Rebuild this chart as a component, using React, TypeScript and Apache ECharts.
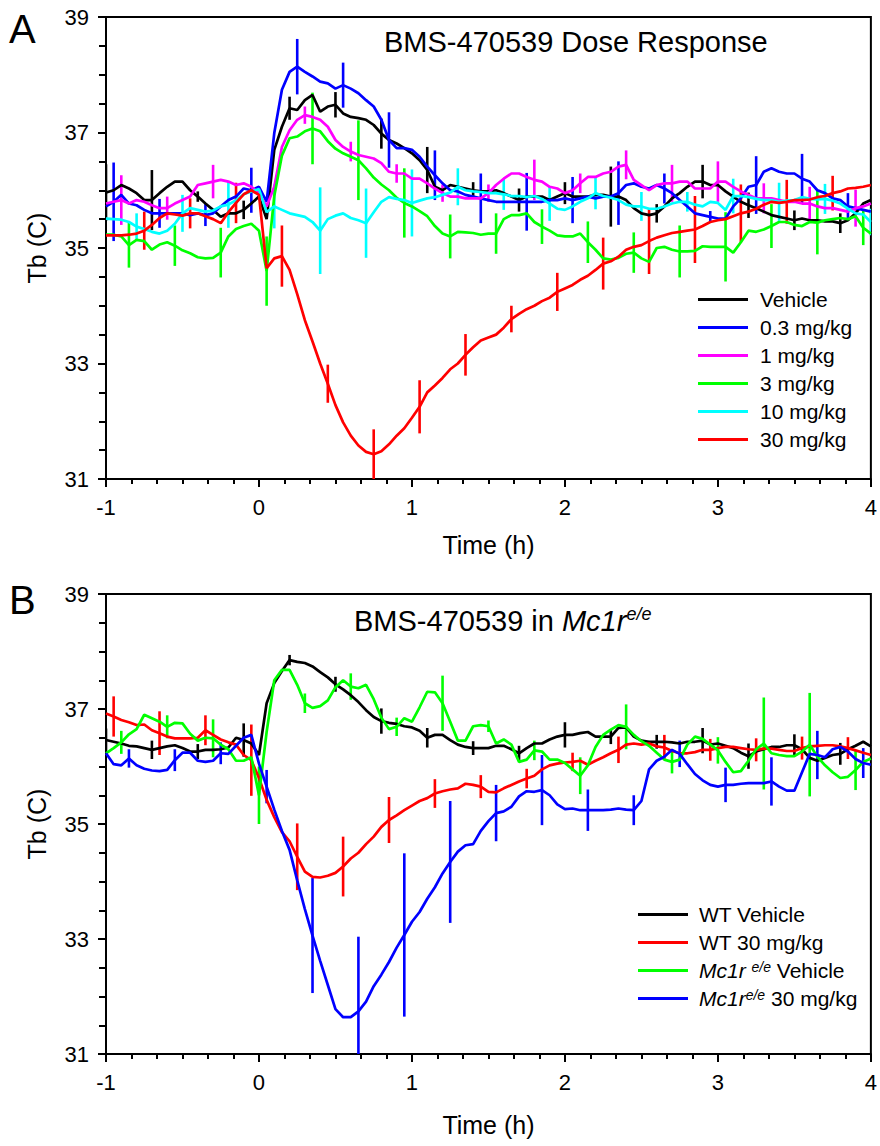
import React, { useEffect, useRef } from "react";
import * as echarts from "echarts";

// ---- time grid (h), 3-minute samples from -1 h to 4 h ----
const TIME: number[] = Array.from({ length: 101 }, (_, k) => Math.round((-1 + 0.05 * k) * 100) / 100);

// ---- Panel A: BMS-470539 dose response ----
const A_VEHICLE = [
  35.96, 36.0, 36.09, 36.03, 35.95, 35.83, 35.83, 35.95, 36.06, 36.15,
  36.15, 36.0, 35.89, 35.77, 35.66, 35.54, 35.6, 35.6, 35.66, 35.77,
  35.89, 35.5, 36.7, 37.1, 37.42, 37.39, 37.56, 37.65, 37.36, 37.45,
  37.48, 37.33, 37.27, 37.25, 37.22, 37.13, 36.98, 36.87, 36.81, 36.73,
  36.64, 36.52, 36.35, 36.06, 36.0, 36.09, 36.06, 36.03, 36.0, 35.98,
  35.98, 36.0, 35.95, 35.89, 35.83, 35.89, 35.89, 35.89, 35.83, 35.89,
  35.95, 35.89, 35.89, 35.89, 35.92, 35.92, 35.89, 35.89, 35.83, 35.69,
  35.6, 35.57, 35.6, 35.72, 35.86, 35.95, 36.06, 36.15, 36.15, 36.09,
  36.09, 35.98, 35.89, 35.8, 35.74, 35.69, 35.63, 35.57, 35.54, 35.51,
  35.48, 35.51, 35.48, 35.48, 35.46, 35.46, 35.43, 35.48, 35.6, 35.77, 35.83,
];
const A_DOSE_03 = [
  35.72, 35.8, 35.92, 35.77, 35.74, 35.66, 35.6, 35.6, 35.6, 35.6,
  35.6, 35.57, 35.6, 35.57, 35.6, 35.72, 35.83, 35.89, 36.03, 36.0,
  36.06, 35.8, 36.99, 37.74, 38.05, 38.14, 38.05, 37.97, 37.88, 37.85,
  37.76, 37.82, 37.76, 37.68, 37.56, 37.45, 37.22, 36.87, 36.73, 36.73,
  36.7, 36.58, 36.41, 36.26, 36.12, 36.0, 35.98, 35.92, 35.89, 35.86,
  35.83, 35.8, 35.8, 35.8, 35.8, 35.8, 35.8, 35.8, 35.83, 35.83,
  35.86, 35.83, 35.86, 35.89, 35.86, 35.89, 35.89, 35.95, 36.09, 36.12,
  36.06, 36.03, 36.09, 36.03, 35.95, 35.83, 35.72, 35.6, 35.57, 35.54,
  35.51, 35.51, 35.72, 35.86, 36.06, 36.09, 36.32, 36.38, 36.32, 36.29,
  36.29, 36.2, 36.15, 36.0, 35.95, 35.86, 35.83, 35.72, 35.69, 35.66, 35.63,
];
const A_DOSE_1 = [
  35.77, 35.8, 35.83, 35.77, 35.83, 35.8, 35.74, 35.69, 35.69, 35.77,
  35.83, 35.89, 36.09, 36.12, 36.15, 36.18, 36.15, 36.09, 36.12, 36.06,
  35.95, 35.72, 36.06, 36.75, 37.04, 37.22, 37.3, 37.27, 37.22, 37.1,
  36.87, 36.75, 36.67, 36.61, 36.58, 36.55, 36.47, 36.32, 36.29, 36.29,
  36.2, 36.2, 36.12, 36.03, 35.95, 35.89, 35.89, 35.86, 35.86, 35.86,
  35.95, 36.09, 36.2, 36.29, 36.29, 36.23, 36.18, 36.15, 36.06, 36.03,
  35.95, 36.0, 36.12, 36.23, 36.23, 36.29, 36.32, 36.41, 36.44, 36.18,
  36.09, 36.0, 36.09, 36.12, 36.12, 36.15, 36.15, 36.03, 36.03, 36.03,
  36.15, 36.15, 36.06, 35.98, 35.92, 35.86, 35.86, 35.86, 35.83, 35.8,
  35.8, 35.77, 35.77, 35.72, 35.69, 35.69, 35.66, 35.63, 35.69, 35.72, 35.77,
];
const A_DOSE_3 = [
  35.23, 35.23, 35.2, 35.05, 35.14, 35.12, 34.97, 35.06, 35.1, 35.04,
  34.96, 34.91, 34.84, 34.82, 34.83, 34.92, 35.2, 35.33, 35.38, 35.42,
  35.3, 34.6, 35.9, 36.6, 36.9, 36.93, 37.02, 37.07, 37.02, 36.85,
  36.72, 36.64, 36.58, 36.52, 36.38, 36.22, 36.1, 36.0, 35.87, 35.78,
  35.72, 35.64, 35.55, 35.38, 35.25, 35.2, 35.28, 35.27, 35.26, 35.23,
  35.25, 35.25, 35.5, 35.57, 35.57, 35.6, 35.45, 35.37, 35.3, 35.22,
  35.2, 35.2, 35.25, 35.1, 34.97, 34.82, 34.8, 34.83, 34.9, 34.92,
  34.82, 34.76, 35.0, 35.02, 34.97, 34.94, 34.94, 34.95, 35.03, 35.02,
  35.02, 35.02, 34.92, 35.1, 35.3, 35.28, 35.32, 35.38, 35.45, 35.45,
  35.4, 35.38, 35.45, 35.44, 35.48, 35.5, 35.52, 35.5, 35.55, 35.35, 35.25,
];
const A_DOSE_10 = [
  35.51, 35.5, 35.49, 35.45, 35.37, 35.33, 35.28, 35.25, 35.3, 35.42,
  35.6, 35.69, 35.66, 35.63, 35.65, 35.72, 35.75, 35.83, 35.93, 35.98,
  36.02, 35.62, 35.72, 35.66, 35.6, 35.57, 35.54, 35.45, 35.3, 35.5,
  35.56, 35.6, 35.52, 35.48, 35.43, 35.62, 35.8, 35.88, 35.85, 35.83,
  35.78, 35.82, 35.86, 35.88, 35.92, 35.96, 36.06, 36.0, 35.98, 35.97,
  35.95, 35.95, 35.93, 35.9, 35.9, 35.88, 35.9, 35.85, 35.77, 35.68,
  35.66, 35.72, 35.8, 35.86, 35.95, 35.9, 35.87, 35.83, 35.75, 35.72,
  35.72, 35.68, 35.68, 35.72, 35.77, 35.8, 35.8, 35.75, 35.72, 35.8,
  35.78, 35.66, 35.9, 35.9, 35.88, 35.85, 35.83, 35.83, 35.8, 35.82,
  35.83, 35.88, 35.85, 35.84, 35.85, 35.82, 35.77, 35.68, 35.6, 35.58, 35.45,
];
const A_DOSE_30 = [
  35.22, 35.22, 35.22, 35.23, 35.25, 35.3, 35.4, 35.52, 35.6, 35.58,
  35.56, 35.6, 35.6, 35.55, 35.5, 35.43, 35.62, 35.78, 35.93, 36.0,
  35.92, 34.65, 34.82, 34.86, 34.62, 34.2, 33.75, 33.38, 33.0, 32.65,
  32.28, 31.98, 31.75, 31.58, 31.47, 31.43, 31.48, 31.6, 31.75, 31.88,
  32.06, 32.25, 32.5, 32.62, 32.75, 32.9, 33.0, 33.15, 33.28, 33.4,
  33.45, 33.5, 33.62, 33.77, 33.86, 33.94, 34.0, 34.08, 34.14, 34.24,
  34.3, 34.36, 34.45, 34.52, 34.62, 34.73, 34.77, 34.85, 34.97, 35.02,
  35.05, 35.12, 35.18, 35.22, 35.26, 35.28, 35.3, 35.32, 35.38, 35.45,
  35.48, 35.5, 35.55, 35.6, 35.63, 35.68, 35.75, 35.8, 35.78, 35.8,
  35.83, 35.83, 35.84, 35.88, 35.9, 35.95, 35.98, 36.03, 36.04, 36.06, 36.09,
];
// SEM half-widths, one bar every 6th sample (start index = offset)
const A_VEHICLE_SEM = [0.49, 0.52, 0.09, 0.16, 0.2, 0.22, 0.26, 0.4, 0.14, 0.2, 0.19, 0.52, 0.16, 0.29, 0.22, 0.17, 0.17];
const A_DOSE_03_SEM = [0.68, 0.25, 0.19, 0.39, 0.48, 0.39, 0.48, 0.43, 0.43, 0.5, 0.4, 0.55, 0.26, 0.1, 0.5, 0.43, 0.23];
const A_DOSE_1_SEM = [0.43, 0.2, 0.29, 0.1, 0.15, 0.17, 0.16, 0.15, 0.15, 0.35, 0.17, 0.25, 0.32, 0.35, 0.26, 0.29, 0.32];
const A_DOSE_3_SEM = [0.39, 0.35, 0.43, 0.6, 0.62, 0.69, 0.6, 0.38, 0.35, 0.3, 0.36, 0.35, 0.45, 0.6, 0.38, 0.55, 0.3];
const A_DOSE_10_SEM = [0.23, 0.32, 0.4, 0.38, 0.75, 0.6, 0.58, 0.32, 0.27, 0.3, 0.28, 0.25, 0.17, 0.3, 0.33, 0.26, 0.23];
const A_DOSE_30_SEM = [0.33, 0.26, 0.35, 0.53, 0.33, 0.43, 0.46, 0.36, 0.23, 0.33, 0.45, 0.57, 0.58, 0.5, 0.38, 0.3];

// ---- Panel B: BMS-470539 in Mc1r e/e ----
const B_WT_VEHICLE = [
  36.46, 36.43, 36.4, 36.36, 36.35, 36.32, 36.29, 36.32, 36.35, 36.37,
  36.32, 36.26, 36.26, 36.29, 36.29, 36.3, 36.33, 36.5, 36.46, 36.4,
  36.2, 37.1, 37.45, 37.66, 37.85, 37.82, 37.8, 37.74, 37.64, 37.55,
  37.43, 37.34, 37.24, 37.12, 36.98, 36.86, 36.79, 36.76, 36.74, 36.7,
  36.68, 36.62, 36.5, 36.55, 36.55, 36.46, 36.38, 36.34, 36.32, 36.32,
  36.32, 36.36, 36.36, 36.3, 36.23, 36.32, 36.4, 36.4, 36.47, 36.52,
  36.55, 36.55, 36.58, 36.6, 36.52, 36.52, 36.52, 36.67, 36.68, 36.52,
  36.45, 36.43, 36.43, 36.43, 36.42, 36.4, 36.43, 36.43, 36.45, 36.38,
  36.4, 36.36, 36.32, 36.24, 36.18, 36.26, 36.3, 36.34, 36.34, 36.37,
  36.37, 36.3, 36.15, 36.1, 36.15, 36.2, 36.22, 36.3, 36.36, 36.43, 36.35,
];
const B_WT_30 = [
  36.92, 36.87, 36.81, 36.77, 36.72, 36.73, 36.63, 36.58, 36.52, 36.49,
  36.49, 36.49, 36.5, 36.63, 36.55, 36.47, 36.42, 36.38, 36.2, 36.11,
  35.8, 35.42, 35.12, 34.86, 34.7, 34.43, 34.17, 34.08, 34.07, 34.1,
  34.15, 34.26, 34.4, 34.5, 34.65, 34.78, 34.95, 35.07, 35.15, 35.24,
  35.32, 35.4, 35.45, 35.53, 35.57, 35.6, 35.62, 35.7, 35.68, 35.65,
  35.56, 35.55, 35.62, 35.68, 35.74, 35.79, 35.84, 35.95, 36.02, 36.05,
  36.07, 36.08, 36.1, 36.03, 36.1, 36.16, 36.23, 36.29, 36.38, 36.4,
  36.38, 36.4, 36.35, 36.33, 36.27, 36.23, 36.23, 36.25, 36.29, 36.29,
  36.32, 36.34, 36.34, 36.32, 36.3, 36.29, 36.31, 36.31, 36.29, 36.27,
  36.27, 36.32, 36.35, 36.36, 36.37, 36.37, 36.35, 36.32, 36.28, 36.24, 36.2,
];
const B_MC1R_VEHICLE = [
  36.23, 36.32, 36.42, 36.56, 36.65, 36.9, 36.84, 36.78, 36.69, 36.76,
  36.75, 36.57, 36.45, 36.5, 36.49, 36.38, 36.3, 36.1, 36.1, 36.16,
  35.5, 36.6, 37.5, 37.68, 37.68, 37.42, 37.1, 37.02, 37.05, 37.15,
  37.38, 37.5, 37.39, 37.36, 37.42, 37.17, 36.85, 36.65, 36.69, 36.84,
  36.78, 37.03, 37.3, 37.29, 37.1, 36.78, 36.45, 36.45, 36.7, 36.72,
  36.7, 36.4, 36.47, 36.38, 36.08, 36.12, 36.28, 36.26, 36.12, 36.12,
  36.06, 35.95, 35.84, 36.02, 36.34, 36.55, 36.64, 36.72, 36.69, 36.55,
  36.44, 36.36, 36.24, 36.12, 36.08, 36.12, 36.38, 36.52, 36.48, 36.38,
  36.28, 36.08, 35.9, 35.92, 36.1, 36.3, 36.4, 36.23, 36.2, 36.18,
  36.18, 36.26, 36.38, 36.17, 36.02, 35.9, 35.8, 35.82, 35.94, 36.08, 36.14,
];
const B_MC1R_30 = [
  36.23, 36.04, 36.02, 36.14, 36.02, 35.96, 35.93, 35.92, 35.94, 36.11,
  36.24, 36.24, 36.1, 36.08, 36.1, 36.23, 36.22, 36.36, 36.5, 36.55,
  36.05, 35.65, 35.25, 34.88, 34.55, 34.02, 33.52, 33.06, 32.62, 32.2,
  31.78, 31.64, 31.64, 31.74, 31.91, 32.18, 32.38, 32.6, 32.85, 33.07,
  33.3, 33.47, 33.7, 33.9, 34.14, 34.34, 34.52, 34.63, 34.65, 34.88,
  35.05, 35.19, 35.22, 35.3, 35.48, 35.57, 35.56, 35.59, 35.5, 35.34,
  35.26, 35.27, 35.24, 35.24, 35.24, 35.24, 35.25, 35.27, 35.25, 35.24,
  35.4, 35.95, 36.1, 36.17, 36.29, 36.22, 36.04, 35.87, 35.76, 35.68,
  35.65, 35.68, 35.68, 35.7, 35.71, 35.71, 35.71, 35.74, 35.65, 35.58,
  35.58, 35.9, 36.22, 36.2, 36.16, 36.3, 36.34, 36.26, 36.13, 36.06, 36.03,
];
const B_WT_VEHICLE_SEM = [0.2, 0.16, 0.13, 0.29, 0.09, 0.13, 0.22, 0.17, 0.12, 0.13, 0.22, 0.13, 0.12, 0.22, 0.22, 0.19, 0.19];
const B_WT_30_SEM = [0.35, 0.38, 0.26, 0.62, 0.58, 0.52, 0.4, 0.25, 0.2, 0.17, 0.16, 0.23, 0.22, 0.19, 0.2, 0.2, 0.19];
const B_MC1R_VEHICLE_SEM = [0.2, 0.2, 0.33, 0.5, 0.17, 0.23, 0.16, 0.48, 0.1, 0.17, 0.32, 0.39, 0.2, 0.23, 0.8, 0.9, 0.35];
const B_MC1R_30_SEM = [0.16, 0.19, 0.19, 0.29, 1.0, 1.3, 1.42, 1.06, 0.49, 0.61, 0.36, 0.26, 0.23, 0.3, 0.42, 0.42, 0.26];

const A_NAMES = ["Vehicle", "0.3 mg/kg", "1 mg/kg", "3 mg/kg", "10 mg/kg", "30 mg/kg"];
const B_NAMES = ["WT Vehicle", "WT 30 mg/kg", "Mc1r e/e Vehicle", "Mc1r e/e 30 mg/kg"];

const FONT = "'Liberation Sans', Arial, Helvetica, sans-serif";
const LINE_W = 2.7;
const TICK_STYLE = { color: "#000", width: 2 };

function buildSeries(
  name: string,
  color: string,
  values: number[],
  offset: number,
  sem: number[],
  axis: number
): any[] {
  const line = {
    type: "line",
    name,
    xAxisIndex: axis,
    yAxisIndex: axis,
    data: TIME.map((t, i) => [t, values[i]]),
    showSymbol: false,
    symbol: "none",
    lineStyle: { color, width: LINE_W },
    itemStyle: { color },
    clip: true,
    z: 3,
  };
  const errData = sem.map((e, j) => {
    const k = offset + 6 * j;
    return [TIME[k], values[k] - e, values[k] + e];
  });
  const bars = {
    type: "custom",
    name: name + " SEM",
    xAxisIndex: axis,
    yAxisIndex: axis,
    data: errData,
    encode: { x: 0, y: [1, 2] },
    clip: true,
    z: 3,
    renderItem: (_params: any, api: any) => {
      const x = api.value(0);
      const p1 = api.coord([x, api.value(1)]);
      const p2 = api.coord([x, api.value(2)]);
      return {
        type: "line",
        shape: { x1: p1[0], y1: p1[1], x2: p2[0], y2: p2[1] },
        style: { stroke: color, lineWidth: 2.6 },
      };
    },
  };
  return [line, bars];
}

function xAxisFor(gridIndex: number, nameGap: number) {
  return {
    type: "value",
    gridIndex,
    position: "bottom",
    min: -1,
    max: 4,
    interval: 1,
    name: "Time (h)",
    nameLocation: "middle",
    nameGap,
    nameTextStyle: { fontSize: 25, color: "#000", fontFamily: FONT },
    axisLine: { show: true, onZero: false, lineStyle: { color: "#000", width: 2 } },
    axisTick: { show: true, length: 8, lineStyle: TICK_STYLE },
    minorTick: { show: true, splitNumber: 6, length: 5, lineStyle: TICK_STYLE },
    splitLine: { show: false },
    minorSplitLine: { show: false },
    axisLabel: { fontSize: 22, color: "#000", fontFamily: FONT, margin: 17 },
  };
}

function yAxisFor(gridIndex: number) {
  return {
    type: "value",
    gridIndex,
    position: "left",
    min: 31,
    max: 39,
    interval: 2,
    name: "Tb (C)",
    nameLocation: "middle",
    nameGap: 57,
    nameTextStyle: { fontSize: 25, color: "#000", fontFamily: FONT },
    axisLine: { show: true, onZero: false, lineStyle: { color: "#000", width: 2 } },
    axisTick: { show: true, length: 8, lineStyle: TICK_STYLE },
    minorTick: { show: true, splitNumber: 4, length: 7, lineStyle: TICK_STYLE },
    splitLine: { show: false },
    minorSplitLine: { show: false },
    axisLabel: { fontSize: 22, color: "#000", fontFamily: FONT, margin: 17 },
  };
}

export default function App() {
  const ref = useRef<HTMLDivElement>(null);

  useEffect(() => {
    document.body.style.margin = "0";
    if (!ref.current) return;
    const chart = echarts.init(ref.current, undefined, { renderer: "svg" });

    const series = [
      ...buildSeries("Vehicle", "#000000", A_VEHICLE, 0, A_VEHICLE_SEM, 0),
      ...buildSeries("0.3 mg/kg", "#0000ff", A_DOSE_03, 1, A_DOSE_03_SEM, 0),
      ...buildSeries("1 mg/kg", "#ff00ff", A_DOSE_1, 2, A_DOSE_1_SEM, 0),
      ...buildSeries("3 mg/kg", "#00ff00", A_DOSE_3, 3, A_DOSE_3_SEM, 0),
      ...buildSeries("10 mg/kg", "#00ffff", A_DOSE_10, 4, A_DOSE_10_SEM, 0),
      ...buildSeries("30 mg/kg", "#ff0000", A_DOSE_30, 5, A_DOSE_30_SEM, 0),
      ...buildSeries("WT Vehicle", "#000000", B_WT_VEHICLE, 0, B_WT_VEHICLE_SEM, 1),
      ...buildSeries("WT 30 mg/kg", "#ff0000", B_WT_30, 1, B_WT_30_SEM, 1),
      ...buildSeries("Mc1r e/e Vehicle", "#00ff00", B_MC1R_VEHICLE, 2, B_MC1R_VEHICLE_SEM, 1),
      ...buildSeries("Mc1r e/e 30 mg/kg", "#0000ff", B_MC1R_30, 3, B_MC1R_30_SEM, 1),
    ];

    const legendBase = {
      orient: "vertical",
      itemWidth: 50,
      itemHeight: 3,
      itemGap: 7,
      icon: "rect",
      padding: 0,
      selectedMode: false,
    };

    const titleStyle = (size: number) => ({
      fontSize: size,
      fontWeight: "normal",
      color: "#000",
      fontFamily: FONT,
    });

    chart.setOption({
      animation: false,
      backgroundColor: "#ffffff",
      textStyle: { fontFamily: FONT },
      title: [
        { text: "A", left: 9, top: 9, padding: 0, textStyle: titleStyle(40) },
        { text: "B", left: 9, top: 580, padding: 0, textStyle: titleStyle(40) },
        { text: "BMS-470539 Dose Response", left: 384, top: 27, padding: 0, textStyle: titleStyle(29) },
        {
          text: "{n|BMS-470539 in }{i|Mc1r}{s|e/e}",
          left: 354,
          top: 605,
          padding: 0,
          textStyle: {
            ...titleStyle(29),
            rich: {
              n: { fontSize: 29, color: "#000", fontFamily: FONT, lineHeight: 31 },
              i: { fontSize: 29, color: "#000", fontStyle: "italic", fontFamily: FONT, lineHeight: 31 },
              s: { fontSize: 18, color: "#000", fontStyle: "italic", fontFamily: FONT, verticalAlign: "top", lineHeight: 18 },
            },
          },
        },
      ],
      legend: [
        {
          ...legendBase,
          left: 698,
          top: 289,
          data: A_NAMES,
          textStyle: { fontSize: 21, color: "#000", fontFamily: FONT, lineHeight: 21, padding: [0, 0, 0, 7] },
        },
        {
          ...legendBase,
          left: 638,
          top: 904,
          data: B_NAMES,
          formatter: (name: string) => {
            if (name === "Mc1r e/e Vehicle") return "{i|Mc1r }{s|e/e}{n| Vehicle}";
            if (name === "Mc1r e/e 30 mg/kg") return "{i|Mc1r}{s|e/e}{n| 30 mg/kg}";
            return "{n|" + name + "}";
          },
          textStyle: {
            fontSize: 21,
            color: "#000",
            fontFamily: FONT,
            lineHeight: 21,
            padding: [0, 0, 0, 6],
            rich: {
              n: { fontSize: 21, color: "#000", fontFamily: FONT, lineHeight: 21 },
              i: { fontSize: 21, color: "#000", fontStyle: "italic", fontFamily: FONT, lineHeight: 21 },
              s: { fontSize: 14, color: "#000", fontStyle: "italic", fontFamily: FONT, verticalAlign: "top", lineHeight: 14 },
            },
          },
        },
      ],
      grid: [
        { left: 106, top: 17, width: 768, height: 462, show: true, borderColor: "#000", borderWidth: 2, backgroundColor: "transparent" },
        { left: 106, top: 594, width: 768, height: 460, show: true, borderColor: "#000", borderWidth: 2, backgroundColor: "transparent" },
      ],
      xAxis: [xAxisFor(0, 53), xAxisFor(1, 58)],
      yAxis: [yAxisFor(0), yAxisFor(1)],
      series,
    });

    return () => {
      chart.dispose();
    };
  }, []);

  return <div ref={ref} style={{ width: 880, height: 1146 }} />;
}
